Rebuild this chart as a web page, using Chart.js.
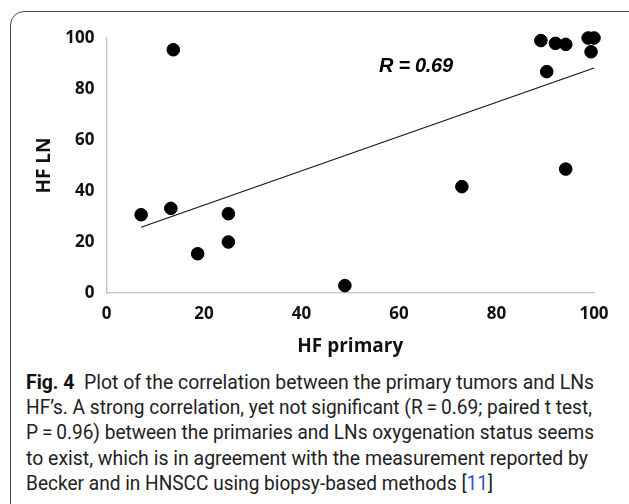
<!DOCTYPE html>
<html>
<head>
<meta charset="utf-8">
<script src="https://cdn.jsdelivr.net/npm/chart.js@4/dist/chart.umd.min.js"></script>
<style>
  html, body { margin: 0; padding: 0; background: #fff; width: 629px; height: 504px; overflow: hidden; }
  #frame { position: absolute; left: 10px; top: 11px; width: 680px; height: 560px; border: 1px solid #4a4a4a; border-radius: 14px; box-sizing: border-box; }
  #wrap { position: absolute; left: 0; top: 0; width: 629px; height: 360px; }
  #rlabel { position: absolute; left: 379px; top: 54px; font-family: "Liberation Sans", Arial, sans-serif; font-weight: bold; font-style: italic; font-size: 20px; color: #000; white-space: nowrap; letter-spacing: -0.3px; }
  #caption { position: absolute; left: 26px; top: 370px; font-family: Roboto, "Noto Sans", sans-serif; font-weight: 400; font-size: 19.5px; color: #222; }
  #caption .ln { position: absolute; left: 0; white-space: nowrap; transform-origin: 0 50%; line-height: 24px; }
  #caption b { font-weight: bold; color: #111; }
  #caption .ref { color: #3355cc; }
</style>
</head>
<body>
<div id="frame"></div>
<div id="wrap"><canvas id="c" width="629" height="360"></canvas></div>
<div id="rlabel">R = 0.69</div>
<div id="caption">
  <div class="ln" data-w="568" style="top:1px"><b>Fig. 4</b>&nbsp;&nbsp;Plot of the correlation between the primary tumors and LNs</div>
  <div class="ln" data-w="566" style="top:26px">HF’s. A strong correlation, yet not significant (R&#8201;=&#8201;0.69; paired t test,</div>
  <div class="ln" data-w="568" style="top:51px">P&#8201;=&#8201;0.96) between the primaries and LNs oxygenation status seems</div>
  <div class="ln" data-w="562" style="top:77px">to exist, which is in agreement with the measurement reported by</div>
  <div class="ln" data-w="467" style="top:102px">Becker and in HNSCC using biopsy-based methods [<span class="ref">11</span>]</div>
</div>
<script>
// Data
const hfPrimary = [7.1, 13.2, 13.7, 18.7, 25.0, 25.0, 48.9, 72.9, 89.1, 90.3, 92.1, 94.2, 94.2, 98.8, 100.0, 99.4];
const hfLN      = [30.7, 33.2, 95.4, 15.4, 31.1, 20.0, 2.9, 41.7, 99.0, 86.8, 97.9, 97.5, 48.6, 100.0, 100.0, 94.6];
const trendX = [7.1, 100];
const trendY = [25.8, 88.2];
const xTicks = [0, 20, 40, 60, 80, 100];
const yTicks = [0, 20, 40, 60, 80, 100];

const points = hfPrimary.map((x, i) => ({ x: x, y: hfLN[i] }));
const trend = trendX.map((x, i) => ({ x: x, y: trendY[i] }));

const tickFont = { family: "'Open Sans', 'Noto Sans', sans-serif", size: 17, weight: 'bold' };
const titleFont = { family: "'Open Sans', 'Noto Sans', sans-serif", size: 19, weight: 'bold' };

new Chart(document.getElementById('c'), {
  type: 'scatter',
  data: {
    datasets: [
      { label: 'HF', data: points, backgroundColor: '#000', borderColor: '#000', pointRadius: 6.3, pointHoverRadius: 6.3, clip: false, order: 1 },
      { type: 'line', label: 'trend', data: trend, borderColor: '#111', borderWidth: 1.1, pointRadius: 0, fill: false, clip: false, order: 2 }
    ]
  },
  options: {
    responsive: false,
    animation: false,
    devicePixelRatio: 1,
    layout: { padding: { top: 38, right: 35, left: 0, bottom: 0 } },
    plugins: { legend: { display: false }, tooltip: { enabled: false } },
    scales: {
      x: {
        type: 'linear', min: 0, max: 100,
        afterBuildTicks: (s) => { s.ticks = xTicks.map(v => ({ value: v })); },
        afterFit: (s) => { s.height = 67; },
        grid: { display: true, drawOnChartArea: false, drawTicks: false },
        border: { display: true, color: '#c4c4c4', width: 1.3 },
        ticks: { font: tickFont, color: '#111', padding: 11, maxRotation: 0 },
        title: { display: true, text: 'HF primary', font: titleFont, color: '#111', padding: { top: 0, bottom: 2 } }
      },
      y: {
        type: 'linear', min: 0, max: 100,
        afterBuildTicks: (s) => { s.ticks = yTicks.map(v => ({ value: v })); },
        afterFit: (s) => { s.width = 106.5; },
        grid: { display: true, drawOnChartArea: false, drawTicks: false },
        border: { display: true, color: '#c4c4c4', width: 1.3 },
        ticks: { font: tickFont, color: '#111', padding: 12 },
        title: { display: true, text: 'HF LN', font: titleFont, color: '#111', padding: { top: 33.6, bottom: 0 } }
      }
    }
  }
});

// fit caption lines to the justified widths of the reference
const lines = document.querySelectorAll('#caption .ln');
lines.forEach(el => {
  const target = parseFloat(el.dataset.w);
  const w = el.getBoundingClientRect().width;
  if (w > 0) el.style.transform = 'scaleX(' + (target / w) + ')';
});
</script>
</body>
</html>
